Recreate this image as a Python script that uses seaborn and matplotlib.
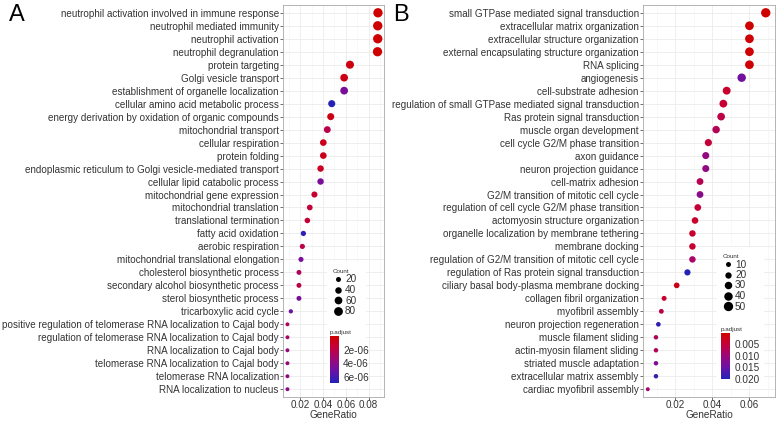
import numpy as np
import pandas as pd
import matplotlib
matplotlib.use("Agg")
import matplotlib.pyplot as plt
import matplotlib as mpl
import seaborn as sns
from matplotlib.colors import LinearSegmentedColormap, Normalize
from matplotlib.lines import Line2D
from matplotlib.patches import Rectangle

# ---------------- data ----------------
terms_a = [
    "neutrophil activation involved in immune response",
    "neutrophil mediated immunity",
    "neutrophil activation",
    "neutrophil degranulation",
    "protein targeting",
    "Golgi vesicle transport",
    "establishment of organelle localization",
    "cellular amino acid metabolic process",
    "energy derivation by oxidation of organic compounds",
    "mitochondrial transport",
    "cellular respiration",
    "protein folding",
    "endoplasmic reticulum to Golgi vesicle-mediated transport",
    "cellular lipid catabolic process",
    "mitochondrial gene expression",
    "mitochondrial translation",
    "translational termination",
    "fatty acid oxidation",
    "aerobic respiration",
    "mitochondrial translational elongation",
    "cholesterol biosynthetic process",
    "secondary alcohol biosynthetic process",
    "sterol biosynthetic process",
    "tricarboxylic acid cycle",
    "positive regulation of telomerase RNA localization to Cajal body",
    "regulation of telomerase RNA localization to Cajal body",
    "RNA localization to Cajal body",
    "telomerase RNA localization to Cajal body",
    "telomerase RNA localization",
    "RNA localization to nucleus",
]
ratio_a = [0.0882, 0.0880, 0.0880, 0.0878, 0.0636, 0.0585, 0.0585, 0.0476, 0.0467, 0.0437,
           0.0402, 0.0402, 0.0378, 0.0378, 0.0324, 0.0283, 0.0262, 0.0227, 0.0218, 0.0206,
           0.0188, 0.0188, 0.0188, 0.0117, 0.0087, 0.0087, 0.0087, 0.0087, 0.0087, 0.0087]
count_a = [91, 91, 91, 90, 66, 60, 60, 49, 48, 45,
           42, 42, 39, 39, 34, 29, 27, 23, 22, 21,
           19, 19, 19, 12, 9, 9, 9, 9, 9, 9]
padj_a = [1e-10, 1e-10, 1e-10, 2e-10, 5e-7, 6e-7, 4.6e-6, 6.8e-6, 6e-7, 2.2e-6,
          8e-7, 8e-7, 1.0e-6, 4.6e-6, 1.4e-6, 1.6e-6, 1.5e-6, 6.6e-6, 2.0e-6, 4.6e-6,
          2.6e-6, 2.0e-6, 4.6e-6, 5.0e-6, 2.6e-6, 3.0e-6, 3.6e-6, 3.6e-6, 3.6e-6, 4.0e-6]

terms_b = [
    "small GTPase mediated signal transduction",
    "extracellular matrix organization",
    "extracellular structure organization",
    "external encapsulating structure organization",
    "RNA splicing",
    "angiogenesis",
    "cell-substrate adhesion",
    "regulation of small GTPase mediated signal transduction",
    "Ras protein signal transduction",
    "muscle organ development",
    "cell cycle G2/M phase transition",
    "axon guidance",
    "neuron projection guidance",
    "cell-matrix adhesion",
    "G2/M transition of mitotic cell cycle",
    "regulation of cell cycle G2/M phase transition",
    "actomyosin structure organization",
    "organelle localization by membrane tethering",
    "membrane docking",
    "regulation of G2/M transition of mitotic cell cycle",
    "regulation of Ras protein signal transduction",
    "ciliary basal body-plasma membrane docking",
    "collagen fibril organization",
    "myofibril assembly",
    "neuron projection regeneration",
    "muscle filament sliding",
    "actin-myosin filament sliding",
    "striated muscle adaptation",
    "extracellular matrix assembly",
    "cardiac myofibril assembly",
]
ratio_b = [0.0690, 0.0602, 0.0602, 0.0602, 0.0602, 0.0560, 0.0479, 0.0461, 0.0449, 0.0422,
           0.0380, 0.0366, 0.0366, 0.0335, 0.0335, 0.0323, 0.0308, 0.0294, 0.0294, 0.0294,
           0.0267, 0.0209, 0.0141, 0.0126, 0.0110, 0.0097, 0.0097, 0.0097, 0.0097, 0.0053]
count_b = [50, 43, 43, 43, 43, 40, 34, 33, 32, 30,
           27, 26, 26, 24, 24, 23, 22, 21, 21, 21,
           19, 15, 10, 9, 8, 7, 7, 7, 7, 4]
padj_b = [0.0002, 0.0005, 0.0005, 0.0005, 0.0005, 0.0140, 0.0040, 0.0042, 0.0060, 0.0072,
          0.0050, 0.0110, 0.0110, 0.0068, 0.0120, 0.0048, 0.0040, 0.0040, 0.0042, 0.0085,
          0.0200, 0.0020, 0.0040, 0.0062, 0.0190, 0.0080, 0.0078, 0.0130, 0.0185, 0.0090]

count_breaks_a = [20, 40, 60, 80]
count_breaks_b = [10, 20, 30, 40, 50]
padj_ticks_a = [2e-6, 4e-6, 6e-6]
padj_labels_a = ["2e-06", "4e-06", "6e-06"]
padj_ticks_b = [0.005, 0.010, 0.015, 0.020]
padj_labels_b = ["0.005", "0.010", "0.015", "0.020"]
xticks_a = [0.02, 0.04, 0.06, 0.08]
xticks_b = [0.02, 0.04, 0.06]

# ---------------- style ----------------
sns.set_theme(style="white")
plt.rcParams['font.family'] = ['Liberation Sans', 'DejaVu Sans']
TXT = "#333333"

W, H = 776, 422
fig = plt.figure(figsize=(W / 100, H / 100), dpi=100)
fig.patch.set_facecolor("white")


def px_rect(l, t, r, b):
    return [l / W, 1 - b / H, (r - l) / W, (b - t) / H]


cmap = LinearSegmentedColormap.from_list(
    "rb", ["#CF0000", "#C4003C", "#9A0878", "#6812A8", "#2222B8"])
SIZES = (8, 45)


def panel(rect, terms, ratio, count, padj, xlim, xticks, pnorm, breaks,
          legend_box, leg_anchor, cbar_rect, cticks, clabels, letter, letter_xy):
    ax = fig.add_axes(px_rect(*rect))
    df = pd.DataFrame(dict(term=terms, GeneRatio=ratio, Count=count, padj=padj))
    snorm = (min(count), max(count))
    ax.set_axisbelow(True)
    sns.scatterplot(data=df, x="GeneRatio", y="term", hue="padj", palette=cmap,
                    hue_norm=pnorm, size="Count", sizes=SIZES, size_norm=snorm,
                    legend=False, linewidth=0, ax=ax, zorder=3)
    ax.set_xlim(*xlim)
    ax.set_ylim(len(terms) - 0.4, -0.6)
    ax.set_xticks(xticks)
    ax.set_xticklabels([f"{v:.2f}" for v in xticks])
    ax.set_xticks([v + 0.01 for v in [0.0] + xticks], minor=True)
    ax.grid(True, which="major", color="#EBEBEB", linewidth=0.6)
    ax.grid(True, which="minor", axis="x", color="#F4F4F4", linewidth=0.4)
    ax.set_ylabel("")
    ax.set_xlabel("GeneRatio", fontsize=7.2, color=TXT, labelpad=0)
    ax.tick_params(axis="y", which="major", labelsize=7.1, colors=TXT,
                   length=2, width=0.5, pad=1, left=True)
    ax.tick_params(axis="x", which="major", labelsize=7.1, colors=TXT,
                   length=2, width=0.5, pad=0.5, bottom=True)
    ax.tick_params(axis="both", which="minor", length=0)
    for s in ax.spines.values():
        s.set_color("#A8A8A8")
        s.set_linewidth(0.6)

    # white guide background
    l, t, r, b = legend_box
    ax.add_patch(Rectangle((l / W, 1 - b / H), (r - l) / W, (b - t) / H,
                           transform=fig.transFigure, facecolor="white",
                           edgecolor="none", zorder=5, clip_on=False))
    # size legend
    handles = []
    for c in breaks:
        s = SIZES[0] + (c - snorm[0]) / (snorm[1] - snorm[0]) * (SIZES[1] - SIZES[0])
        handles.append(Line2D([], [], marker="o", linestyle="", color="black",
                              markersize=np.sqrt(s), markeredgewidth=0))
    leg = ax.legend(handles, [str(c) for c in breaks], title="Count",
                    loc="upper left", bbox_to_anchor=(leg_anchor[0] / W, 1 - leg_anchor[1] / H),
                    bbox_transform=fig.transFigure, frameon=False, fontsize=7.2,
                    title_fontsize=4.5, labelspacing=0.05, handletextpad=0.2,
                    handlelength=1.0, borderpad=0, alignment="left")
    leg.set_zorder(6)
    for tx in leg.get_texts():
        tx.set_color(TXT)
    leg.get_title().set_color(TXT)

    # colour bar
    cax = fig.add_axes(px_rect(*cbar_rect))
    cb = mpl.colorbar.ColorbarBase(cax, cmap=cmap, norm=Normalize(*pnorm),
                                   orientation="vertical")
    cax.invert_yaxis()
    cb.outline.set_visible(False)
    cb.set_ticks(cticks)
    cb.set_ticklabels(clabels)
    cax.tick_params(labelsize=7.2, colors=TXT, length=2, width=0.5, pad=1)
    cax.tick_params(axis="y", color="white")
    for tl in cax.get_yticklabels():
        tl.set_color(TXT)
    cax.set_title("p.adjust", fontsize=4.5, color=TXT, loc="left", pad=1.5)

    fig.text(letter_xy[0] / W, 1 - letter_xy[1] / H, letter, fontsize=17,
             color="black", ha="left", va="top")
    return ax


panel((283, 5, 384, 397), terms_a, ratio_a, count_a, padj_a,
      (0.0048, 0.0935), xticks_a, (0.0, 6.9e-6), count_breaks_a,
      (327, 262, 366, 388), (328, 264), (330, 336, 339, 383),
      padj_ticks_a, padj_labels_a, "A", (9, 4))

panel((643, 5, 775, 397), terms_b, ratio_b, count_b, padj_b,
      (0.0027, 0.074), xticks_b, (0.0002, 0.0201), count_breaks_b,
      (717, 247, 764, 386), (718, 249), (721, 333, 730, 379),
      padj_ticks_b, padj_labels_b, "B", (393, 4))

fig.savefig("out.png", dpi=100, facecolor="white")
